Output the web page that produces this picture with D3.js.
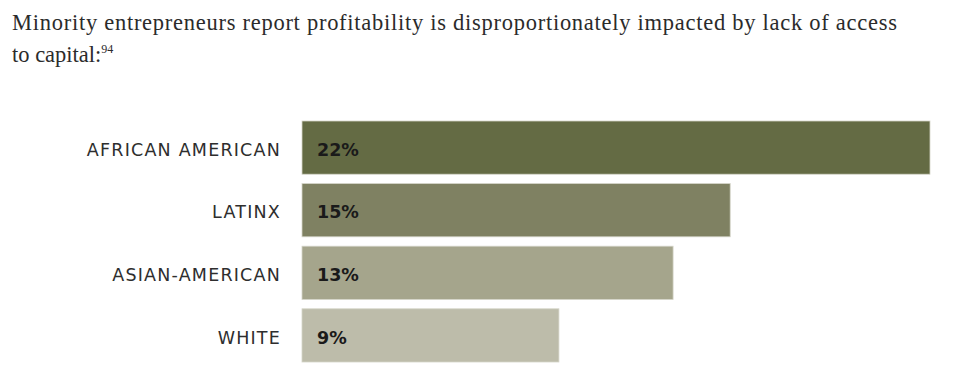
<!DOCTYPE html>
<html>
<head>
<meta charset="utf-8">
<script src="https://cdn.jsdelivr.net/npm/d3@7"></script>
<style>
  body { margin: 0; background: #fff; }
  .title { font-family: "Liberation Serif", "DejaVu Serif", serif; font-size: 22.5px; fill: #2b2b2b; }
  .cat { font-family: "DejaVu Sans", "Noto Sans", sans-serif; font-size: 17.5px; letter-spacing: 1.2px; fill: #2e2e2e; }
  .val { font-family: "DejaVu Sans", "Noto Sans", sans-serif; font-size: 17.5px; font-weight: 700; fill: #1a1a1a; }
</style>
</head>
<body>
<div id="chart"></div>
<script>
// data
var categories = ["AFRICAN AMERICAN", "LATINX", "ASIAN-AMERICAN", "WHITE"];
var values = [22, 15, 13, 9];
var colors = ["#646b44", "#7f8162", "#a5a58c", "#bdbcaa"];

var width = 975, height = 375;
var margin = {top: 121, right: 45, bottom: 13, left: 302};

var svg = d3.select("#chart")
  .append("svg")
  .attr("width", width)
  .attr("height", height);

// title
var title = svg.append("text").attr("class", "title");
title.append("tspan").attr("x", 12).attr("y", 30)
  .attr("textLength", 885).attr("lengthAdjust", "spacing")
  .text("Minority entrepreneurs report profitability is disproportionately impacted by lack of access");
title.append("tspan").attr("x", 12).attr("y", 62).text("to capital:");
title.append("tspan").attr("dy", -9).style("font-size", "12px").text("94");

var x = d3.scaleLinear()
  .domain([0, 22])
  .range([margin.left, 930]);

var y = d3.scaleBand()
  .domain(categories)
  .range([margin.top, height - margin.bottom])
  .paddingInner(0.15)
  .paddingOuter(0);

var g = svg.append("g");

g.selectAll("rect")
  .data(values)
  .enter()
  .append("rect")
  .attr("x", x(0))
  .attr("y", (d, i) => y(categories[i]))
  .attr("width", d => x(d) - x(0))
  .attr("height", y.bandwidth())
  .attr("fill", (d, i) => colors[i])
  .attr("stroke", "#d4d4c8")
  .attr("stroke-width", 0.8);

g.selectAll(".val")
  .data(values)
  .enter()
  .append("text")
  .attr("class", "val")
  .attr("x", x(0) + 15)
  .attr("y", (d, i) => y(categories[i]) + y.bandwidth() / 2 + 2)
  .attr("dy", "0.35em")
  .text(d => d + "%");

g.selectAll(".cat")
  .data(categories)
  .enter()
  .append("text")
  .attr("class", "cat")
  .attr("x", 281)
  .attr("y", d => y(d) + y.bandwidth() / 2 + 2)
  .attr("dy", "0.35em")
  .attr("text-anchor", "end")
  .text(d => d);
</script>
</body>
</html>
